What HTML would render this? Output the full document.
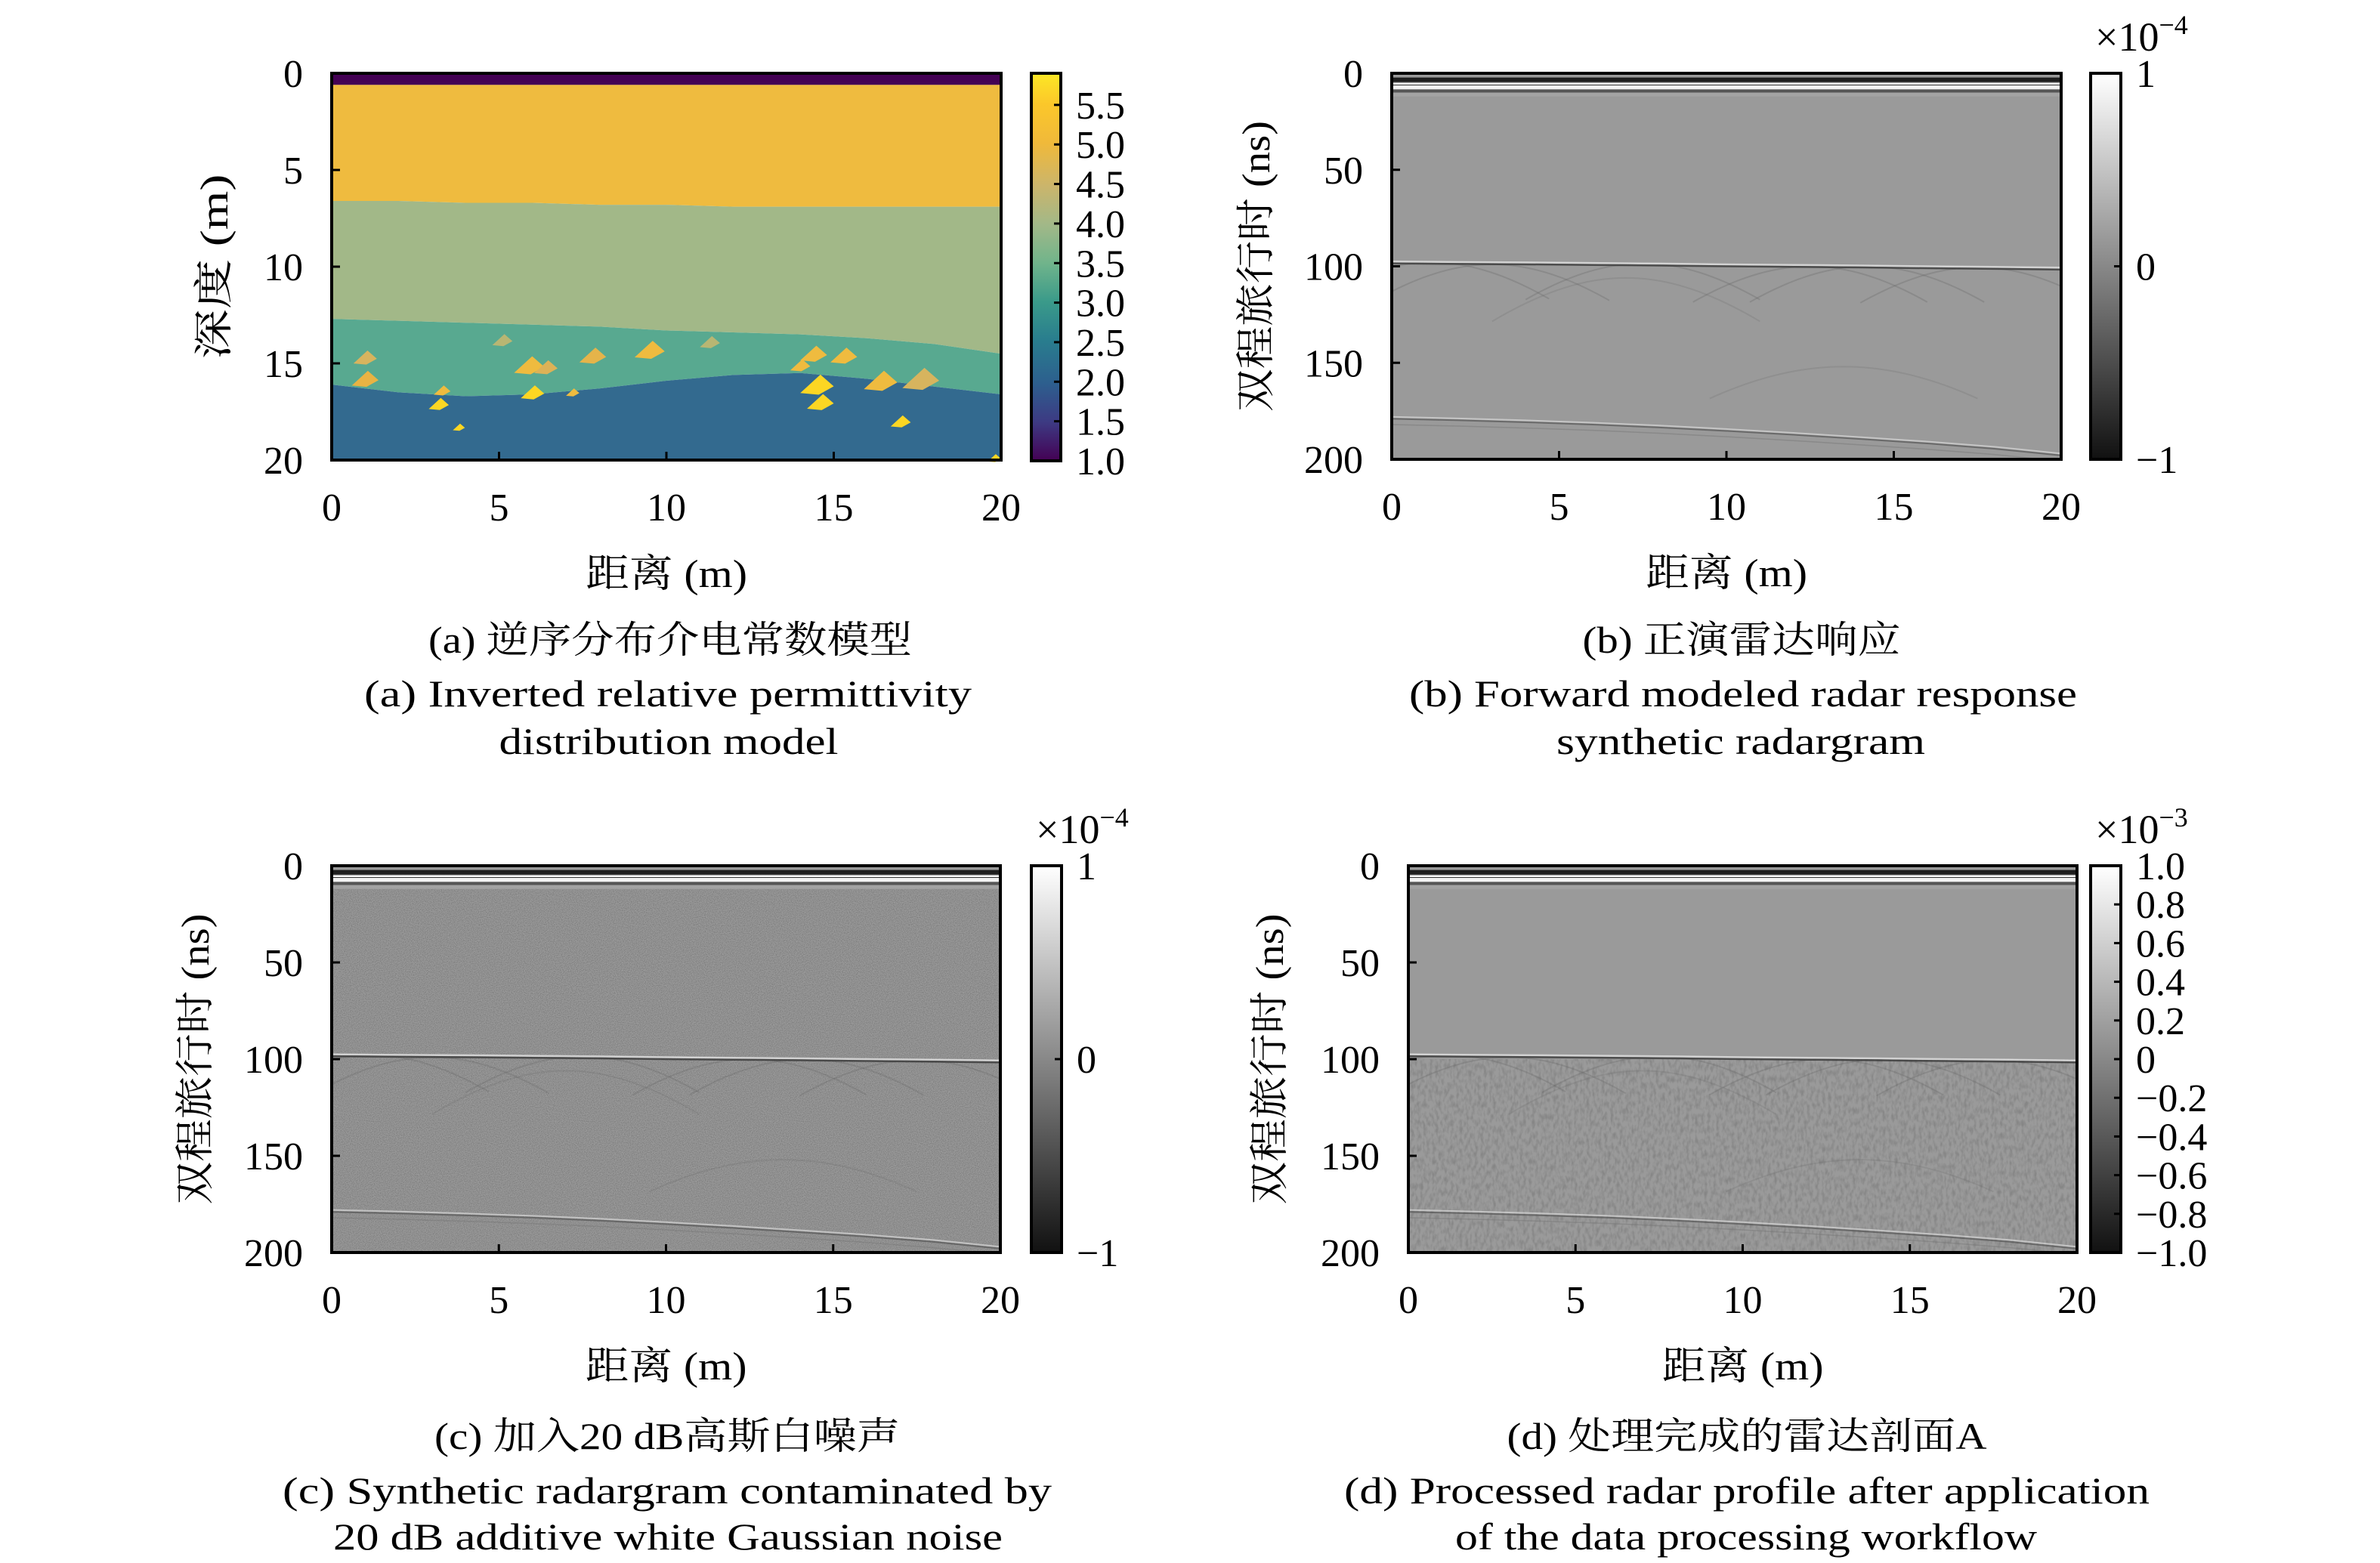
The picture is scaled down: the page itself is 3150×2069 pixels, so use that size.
<!DOCTYPE html>
<html><head><meta charset="utf-8">
<style>
html,body{margin:0;padding:0;background:#fff;}
svg{display:block;}
text{font-family:"Liberation Serif","Noto Serif CJK SC",serif;fill:#000;}
</style></head>
<body>
<svg id="fig" xmlns="http://www.w3.org/2000/svg" width="3150" height="2069" viewBox="0 0 3150 2069">
<defs>
<linearGradient id="viridis" x1="0" y1="1" x2="0" y2="0">
<stop offset="0" stop-color="#440154"/><stop offset="0.1" stop-color="#3d3a83"/><stop offset="0.2" stop-color="#2d5f8e"/><stop offset="0.31" stop-color="#297d8e"/><stop offset="0.41" stop-color="#3a9a8a"/><stop offset="0.51" stop-color="#70b48b"/><stop offset="0.61" stop-color="#a2b888"/><stop offset="0.71" stop-color="#cbb56b"/><stop offset="0.82" stop-color="#f0b93a"/><stop offset="0.92" stop-color="#fbc72a"/><stop offset="1" stop-color="#fde725"/>
</linearGradient>
<linearGradient id="gray" x1="0" y1="1" x2="0" y2="0">
<stop offset="0" stop-color="#111"/><stop offset="1" stop-color="#fff"/>
</linearGradient>
<filter id="noiseC" x="0" y="0" width="100%" height="100%">
<feTurbulence type="fractalNoise" baseFrequency="0.9" numOctaves="1" seed="3"/>
<feColorMatrix type="matrix" values="0 0 0 0 0  0 0 0 0 0  0 0 0 0 0  0 0 0 -2.2 1.4"/>
</filter>
<filter id="noiseD" x="0" y="0" width="100%" height="100%">
<feTurbulence type="fractalNoise" baseFrequency="0.25 0.12" numOctaves="2" seed="7"/>
<feColorMatrix type="matrix" values="0 0 0 0 0  0 0 0 0 0  0 0 0 0 0  0 0 0 -2.5 1.5"/>
</filter>
</defs>
<g id="root"></g>
</svg>
<script>
// ---- Panel (a) data: layer boundary depths (m) sampled at distances xs ----
const xs = [0,2,4,6,8,10,12,14,16,18,20];
const airBottom = [0.6,0.6,0.6,0.6,0.6,0.6,0.6,0.6,0.6,0.6,0.6];
const boundary1 = [6.6,6.6,6.7,6.7,6.8,6.8,6.9,6.9,6.9,6.9,6.9];
const boundary2 = [12.7,12.8,12.9,13.0,13.1,13.3,13.4,13.5,13.7,14.0,14.5];
const boundary3 = [16.1,16.5,16.7,16.6,16.3,15.9,15.6,15.5,15.8,16.2,16.6];
const layerColors = ['#440154','#efbb3f','#a2b888','#58a990','#336a8f'];
const inclX = [1.0,1.0,5.9,6.4,7.8,9.5,11.3,14.4,15.3,14.0,16.4,17.6,3.3,3.2,6.0,7.2,3.8,14.5,14.6,17.0,19.8,5.1];
const inclD = [14.7,15.8,15.1,15.2,14.6,14.3,13.9,14.5,14.6,15.1,15.9,15.8,16.4,17.1,16.5,16.5,18.3,16.1,17.0,18.0,19.9,13.8];
const inclS = [0.35,0.4,0.45,0.35,0.4,0.45,0.3,0.4,0.4,0.3,0.5,0.55,0.25,0.3,0.35,0.2,0.18,0.5,0.4,0.3,0.2,0.3];
const inclC = ['#d7b45e','#e9b343','#efbb3f','#dcb257','#e5b44a','#efbb3f','#b8b673','#efbb3f','#efbb3f','#efbb3f','#efbb3f','#d7b45e','#efbb3f','#fcd623','#fcd623','#efbb3f','#fcd623','#fcd623','#fcd623','#fcd623','#fcd623','#b8b673'];
const aTicksY = [0,5,10,15,20];
const xTicks = [0,5,10,15,20];
const aCbTicks = [1.0,1.5,2.0,2.5,3.0,3.5,4.0,4.5,5.0,5.5];
const aCbLabels = ['1.0','1.5','2.0','2.5','3.0','3.5','4.0','4.5','5.0','5.5'];
// ---- Radar data ----
const tTicks = [0,50,100,150,200];
const stripeT0 = [0,2.2,4.6,5.0,5.9,6.3,6.6,8.2,8.6,10.0];
const stripeT1 = [2.2,4.6,5.0,5.9,6.3,6.6,8.2,8.6,10.0,12];
const stripeC = ['#9a9a9a','#1e1e1e','#8a8a8a','#ffffff','#2a2a2a','#ffffff','#f4f4f4','#8a8a8a','#555','#a3a3a3'];
const event1T = [97.5,97.8,98.0,98.3,98.6,99.0,99.3,99.6,100.0,100.3,100.7];
const event2T = [178,178.8,179.8,181,182.5,184.3,186.3,188.5,190.8,193.5,197];
const hypX = [1.2,3.0,7.5,12.5,14.2,17.5];
const hypT = [98,99,98.5,100,100,100.5];
const hyp2X = [7.0,13.5];
const hyp2T = [106,152];
const bCbTicks = [-1,0,1];
const bCbLabels = ['\u22121','0','1'];
const dCbTicks = [-1.0,-0.8,-0.6,-0.4,-0.2,0,0.2,0.4,0.6,0.8,1.0];
const dCbLabels = ['\u22121.0','\u22120.8','\u22120.6','\u22120.4','\u22120.2','0','0.2','0.4','0.6','0.8','1.0'];

const NS='http://www.w3.org/2000/svg';
const root=document.getElementById('root');
function mk(tag,attrs,parent){const e=document.createElementNS(NS,tag);for(const k in attrs)e.setAttribute(k,attrs[k]);(parent||root).appendChild(e);return e;}
function txt(s,x,y,size,anchor,parent,extra){const t=mk('text',Object.assign({x:x,y:y,'font-size':size,'text-anchor':anchor||'middle'},extra||{}),parent);t.textContent=s;return t;}

function axesFrame(g,b,yTicks,yMax){
  const sx=v=>b.l+(v/20)*(b.r-b.l), sy=v=>b.t+(v/yMax)*(b.b-b.t);
  xTicks.forEach(v=>{
    const tk=mk('line',{x1:sx(v),x2:sx(v),y1:b.b,y2:b.b-11,stroke:'#000','stroke-width':3},g);
    
    
    const l=txt(String(v),sx(v),b.b+80,52,'middle',g);
    
    
  });
  yTicks.forEach(v=>{
    const tk=mk('line',{x1:b.l,x2:b.l+11,y1:sy(v),y2:sy(v),stroke:'#000','stroke-width':3},g);
    
    
    const l=txt(String(v),b.l-38,sy(v)+18,52,'end',g);
    
    
  });
  const fr=mk('rect',{x:b.l,y:b.t,width:b.r-b.l,height:b.b-b.t,fill:'none',stroke:'#000','stroke-width':4},g);
  
  
  return {sx,sy};
}
function colorbar(g,c,grad,ticks,labels,vmin,vmax,mult){
  const r=mk('rect',{x:c.l,y:c.t,width:c.r-c.l,height:c.b-c.t,fill:'url(#'+grad+')',stroke:'#000','stroke-width':4},g);
  
  
  const cy=v=>c.b-(v-vmin)/(vmax-vmin)*(c.b-c.t);
  ticks.forEach((v,i)=>{
    const tk=mk('line',{x1:c.r,x2:c.r-9,y1:cy(v),y2:cy(v),stroke:'#000','stroke-width':3},g);
    
    
    const l=txt(labels[i],c.r+20,cy(v)+18,52,'start',g);
    
    
  });
  if(mult){
    const m=txt('\u00d710',c.l+6,c.t-30,54,'start',g);
    
    
    const s=mk('tspan',{'font-size':36,dy:-22},m);s.textContent=mult;
  }
}
function labels(g,b,yl,yx,caps){
  const cx=(b.l+b.r)/2;
  const a=txt('距离 (m)',cx,b.b+168,52,'middle',g,{textLength:214,lengthAdjust:'spacingAndGlyphs'});
  
  
  const ymid=(b.t+b.b)/2;
  const y=txt(yl.s,0,0,52,'middle',g,{transform:'translate('+(yx+18)+','+ymid+') rotate(-90)',textLength:yl.w,lengthAdjust:'spacingAndGlyphs'});
  
  
  caps.forEach((c,i)=>{
    const t=txt(c.s,c.cx,c.y+17,50,'middle',g,{textLength:c.w,lengthAdjust:'spacingAndGlyphs'});
    
    
  });
}

// ---------- Panel a ----------
(function(){
  const g=mk('g',{});
  const b={l:439,r:1325,t:97,b:609};
  const sx=v=>b.l+(v/20)*(b.r-b.l), sy=v=>b.t+(v/20)*(b.b-b.t);
  const bounds=[xs.map(()=>0),airBottom,boundary1,boundary2,boundary3,xs.map(()=>20)];
  for(let k=0;k<5;k++){
    let d='M'+sx(xs[0])+','+sy(bounds[k][0]);
    for(let i=1;i<xs.length;i++)d+=' L'+sx(xs[i])+','+sy(bounds[k][i]);
    for(let i=xs.length-1;i>=0;i--)d+=' L'+sx(xs[i])+','+sy(bounds[k+1][i]);
    const p=mk('path',{d:d+'Z',fill:layerColors[k]},g);
    
    
  }
  inclX.forEach((x,i)=>{
    const cx=sx(x),cy=sy(inclD[i]),s=inclS[i]*(b.r-b.l)/20;
    const p=mk('polygon',{points:(cx-s)+','+(cy+s*0.5)+' '+(cx+s*0.2)+','+(cy-s*0.6)+' '+(cx+s)+','+(cy+s*0.1)+' '+(cx+s*0.1)+','+(cy+s*0.6),fill:inclC[i]},g);
    
    
  });
  axesFrame(g,b,aTicksY,20);
  colorbar(g,{l:1365,r:1404,t:97,b:610},'viridis',aCbTicks,aCbLabels,1.0,5.9,null);
  labels(g,b,{s:'深度 (m)',w:245},283,[
    {s:'(a) 逆序分布介电常数模型',cx:887,y:847,w:640},
    {s:'(a) Inverted relative permittivity',cx:884,y:918,w:804},
    {s:'distribution model',cx:885,y:981,w:449}]);
})();

function radar(name,b,cb,cbTicks,cbLabels,vmin,mult,noise,caps,yx){
  const g=mk('g',{});
  const sx=v=>b.l+(v/20)*(b.r-b.l), sy=v=>b.t+(v/200)*(b.b-b.t);
  const bg=mk('rect',{x:b.l,y:b.t,width:b.r-b.l,height:b.b-b.t,fill:'#9a9a9a'},g);
  
  
  const clipId='clip-'+name;
  const cp=mk('clipPath',{id:clipId},g);mk('rect',{x:b.l,y:b.t,width:b.r-b.l,height:b.b-b.t},cp);
  const inner=mk('g',{'clip-path':'url(#'+clipId+')'},g);
  if(noise==='c'){const n=mk('rect',{x:b.l,y:b.t,width:b.r-b.l,height:b.b-b.t,filter:'url(#noiseC)',opacity:0.22},inner);}
  if(noise==='d'){const n=mk('rect',{x:b.l,y:sy(100),width:b.r-b.l,height:b.b-sy(100),filter:'url(#noiseD)',opacity:0.12},inner);}
  stripeT0.forEach((t,i)=>{
    const r=mk('rect',{x:b.l,y:sy(t),width:b.r-b.l,height:sy(stripeT1[i])-sy(t),fill:stripeC[i]},inner);
    
    
  });
  function line(arr,dt,col,w,nm,op){
    let d='';xs.forEach((x,i)=>{d+=(i?' L':'M')+sx(x)+','+sy(arr[i]+dt);});
    const p=mk('path',{d:d,fill:'none',stroke:col,'stroke-width':w,opacity:op},inner);
    
    
  }
  function hyps(X,T,op,span){
    X.forEach((x0,i)=>{
      let d='';
      for(let k=0;k<=40;k++){const x=x0-span+k*span/20;const t=Math.sqrt(T[i]*T[i]+Math.pow(2*(x-x0)/0.11,2));d+=(k?' L':'M')+sx(x)+','+sy(t);}
      const p=mk('path',{d:d,fill:'none',stroke:'#666','stroke-width':2,opacity:op},inner);
      
      
    });
  }
  hyps(hypX,hypT,0.3,3.5);hyps(hyp2X,hyp2T,0.2,4);
  line(event1T,0,'#d8d8d8',2.5,'reflection-1-white',0.9);
  line(event1T,1.0,'#3a3a3a',2.5,'reflection-1-dark',0.8);
  line(event2T,0,'#cfcfcf',2,'reflection-2-white',0.8);
  line(event2T,1.0,'#555',2,'reflection-2-dark',0.7);
  line(event2T,4,'#777',1.5,'reflection-2-tail',0.5);
  axesFrame(g,b,tTicks,200);
  colorbar(g,cb,'gray',cbTicks,cbLabels,vmin,-vmin,mult);
  labels(g,b,{s:'双程旅行时 (ns)',w:385},yx,caps);
}
radar('panel-b',{l:1842,r:2728,t:97,b:608},{l:2767,r:2807,t:97,b:608},bCbTicks,bCbLabels,-1,'\u22124',null,[
  {s:'(b) 正演雷达响应',cx:2305,y:847,w:421},
  {s:'(b) Forward modeled radar response',cx:2307,y:918,w:884},
  {s:'synthetic radargram',cx:2304,y:981,w:488}],1662);
radar('panel-c',{l:439,r:1324,t:1146,b:1658},{l:1365,r:1405,t:1146,b:1658},bCbTicks,bCbLabels,-1,'\u22124','c',[
  {s:'(c) 加入20 dB高斯白噪声',cx:883,y:1901,w:616},
  {s:'(c) Synthetic radargram contaminated by',cx:883,y:1973,w:1018},
  {s:'20 dB additive white Gaussian noise',cx:884,y:2034,w:886}],258);
radar('panel-d',{l:1864,r:2749,t:1146,b:1658},{l:2767,r:2807,t:1146,b:1658},dCbTicks,dCbLabels,-1.0,'\u22123','d',[
  {s:'(d) 处理完成的雷达剖面A',cx:2312,y:1901,w:635},
  {s:'(d) Processed radar profile after application',cx:2312,y:1973,w:1066},
  {s:'of the data processing workflow',cx:2311,y:2034,w:770}],1680);
</script>
</body></html>
